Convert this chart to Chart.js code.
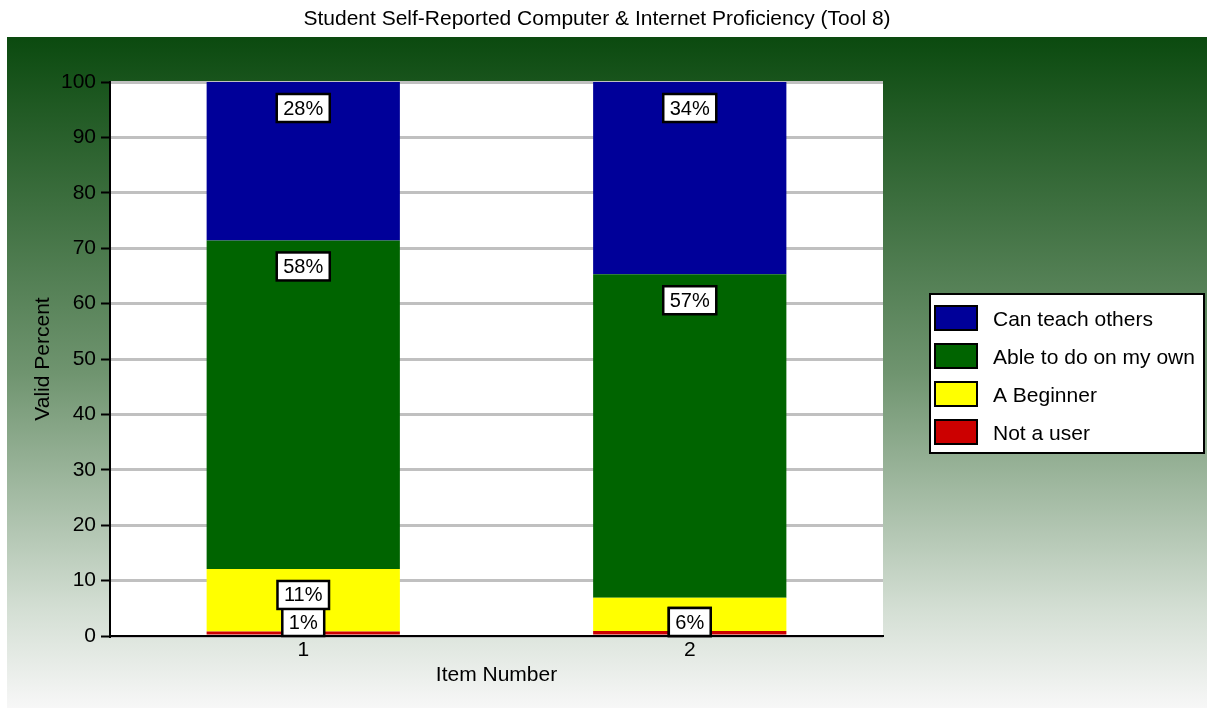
<!DOCTYPE html>
<html>
<head>
<meta charset="utf-8">
<title>Student Self-Reported Computer & Internet Proficiency (Tool 8)</title>
<script src="https://cdn.jsdelivr.net/npm/chart.js@4.4.0/dist/chart.umd.min.js"></script>
<style>
  html, body { margin: 0; padding: 0; background: #fff; }
  #wrap { width: 1207px; height: 708px; }
</style>
</head>
<body>
<div id="wrap"><canvas id="chart" width="1207" height="708"></canvas></div>
<script>
// Data (valid percent per item)
const items = ['1', '2'];
const notUser = [0.8, 0.9];
const beginner = [11.3, 6.0];
const ownWay = [59.3, 58.4];
const teach = [28.6, 34.7];

// Box labels as printed on the bars
const notUserLbl = ['1%', '1%'];
const beginnerLbl = ['11%', '6%'];
const ownLbl = ['58%', '57%'];
const teachLbl = ['28%', '34%'];
const segLabels = [notUserLbl, beginnerLbl, ownLbl, teachLbl];

const FONT = '"Liberation Sans", Arial, sans-serif';
const TEXT = '#000';
const chartTitle = 'Student Self-Reported Computer & Internet Proficiency (Tool 8)';

// green gradient panel + white plot area + title
const backdrop = {
  id: 'backdrop',
  beforeDraw(chart) {
    const { ctx, width, height, chartArea } = chart;
    ctx.save();
    ctx.fillStyle = '#fff';
    ctx.fillRect(0, 0, width, height);
    const g = ctx.createLinearGradient(0, 37, 0, height);
    g.addColorStop(0, '#0b4a0f');
    g.addColorStop(0.5, '#6f946f');
    g.addColorStop(0.85, '#d3ded3');
    g.addColorStop(1, '#f7f7f7');
    ctx.fillStyle = g;
    ctx.fillRect(7, 37, width - 7, height - 37);
    ctx.fillStyle = '#fff';
    ctx.fillRect(chartArea.left, chartArea.top, chartArea.right - chartArea.left, chartArea.bottom - chartArea.top);
    ctx.fillStyle = TEXT;
    ctx.font = '21px ' + FONT;
    ctx.textAlign = 'center';
    ctx.textBaseline = 'middle';
    ctx.fillText(chartTitle, 597, 19);
    ctx.restore();
  }
};

// white boxed percent labels near the top of each segment
const boxLabels = {
  id: 'boxLabels',
  afterDatasetsDraw(chart) {
    const ctx = chart.ctx;
    const bottom = chart.chartArea.bottom;
    ctx.save();
    ctx.font = '20px ' + FONT;
    ctx.textAlign = 'center';
    ctx.textBaseline = 'middle';
    chart.data.datasets.forEach((ds, i) => {
      const meta = chart.getDatasetMeta(i);
      meta.data.forEach((bar, j) => {
        const txt = segLabels[i][j];
        if (!txt) return;
        const w = ctx.measureText(txt).width + 13;
        const h = 28;
        let top = bar.y + 12;
        if (top + h > bottom) top = bottom - h;
        ctx.fillStyle = '#fff';
        ctx.fillRect(bar.x - w / 2, top, w, h);
        ctx.strokeStyle = '#000';
        ctx.lineWidth = 2.5;
        ctx.strokeRect(bar.x - w / 2, top, w, h);
        ctx.fillStyle = TEXT;
        ctx.fillText(txt, bar.x, top + h / 2 + 1);
      });
    });
    ctx.restore();
  }
};

// legend box on the right, top series first
const sideLegend = {
  id: 'sideLegend',
  afterDraw(chart) {
    const ctx = chart.ctx;
    const x0 = 930, y0 = 294, w = 274, h = 159;
    ctx.save();
    ctx.fillStyle = '#fff';
    ctx.fillRect(x0, y0, w, h);
    ctx.strokeStyle = '#000';
    ctx.lineWidth = 2;
    ctx.strokeRect(x0, y0, w, h);
    ctx.font = '21px ' + FONT;
    ctx.textAlign = 'left';
    ctx.textBaseline = 'middle';
    const ds = chart.data.datasets.slice().reverse();
    ds.forEach((d, k) => {
      const cy = y0 + 24 + k * 38;
      ctx.fillStyle = d.backgroundColor;
      ctx.fillRect(x0 + 5, cy - 12, 42, 24);
      ctx.strokeRect(x0 + 5, cy - 12, 42, 24);
      ctx.fillStyle = TEXT;
      ctx.fillText(d.label, x0 + 63, cy + 2);
    });
    ctx.restore();
  }
};

new Chart(document.getElementById('chart'), {
  type: 'bar',
  data: {
    labels: items,
    datasets: [
      { label: 'Not a user', data: notUser, backgroundColor: '#cc0000' },
      { label: 'A Beginner', data: beginner, backgroundColor: '#ffff00' },
      { label: 'Able to do on my own', data: ownWay, backgroundColor: '#006400' },
      { label: 'Can teach others', data: teach, backgroundColor: '#000099' }
    ]
  },
  options: {
    responsive: false,
    animation: false,
    categoryPercentage: 1,
    barPercentage: 0.5,
    borderWidth: 0,
    layout: { padding: { top: 82, right: 324, bottom: 0, left: 0 } },
    plugins: {
      legend: { display: false },
      title: { display: false },
      tooltip: { enabled: false }
    },
    scales: {
      x: {
        stacked: true,
        grid: { display: false, drawTicks: false },
        border: { color: '#000', width: 2 },
        ticks: { color: TEXT, font: { family: FONT, size: 21 }, padding: 2 },
        title: { display: true, text: 'Item Number', color: TEXT, font: { family: FONT, size: 21 }, padding: { top: 0, bottom: 20 } },
        afterFit: s => { s.height = 72; }
      },
      y: {
        stacked: true,
        min: 0,
        max: 100,
        grid: { color: '#c0c0c0', lineWidth: 3, tickColor: '#000', tickLength: 9, tickWidth: 2 },
        border: { color: '#000', width: 2 },
        ticks: { stepSize: 10, color: TEXT, font: { family: FONT, size: 21 }, padding: 5 },
        title: { display: true, text: 'Valid Percent', color: TEXT, font: { family: FONT, size: 21 }, padding: { top: 31, bottom: 0 } },
        afterFit: s => { s.width = 110; }
      }
    }
  },
  plugins: [backdrop, boxLabels, sideLegend]
});
</script>
</body>
</html>
